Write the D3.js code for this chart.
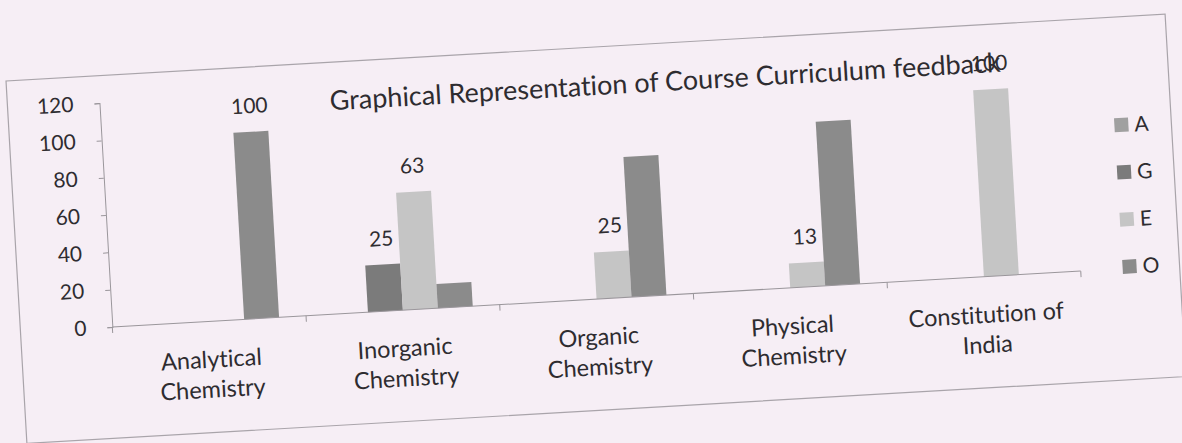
<!DOCTYPE html>
<html>
<head>
<meta charset="utf-8">
<script src="https://cdn.jsdelivr.net/npm/d3@7"></script>
<style>
  html, body { margin: 0; padding: 0; background: #f6eef5; }
  svg { display: block; }
  text { font-family: Lato, "Open Sans", sans-serif; fill: #2e2c30; font-variant-ligatures: none; }
</style>
</head>
<body>
<svg id="chart" width="1182" height="443"></svg>
<script>
// ---- data ----
const categories = ["Analytical Chemistry", "Inorganic Chemistry", "Organic Chemistry", "Physical Chemistry", "Constitution of India"];
const categoryLines = [["Analytical", "Chemistry"], ["Inorganic", "Chemistry"], ["Organic", "Chemistry"], ["Physical", "Chemistry"], ["Constitution of", "India"]];
const seriesNames = ["A", "G", "E", "O"];
const valuesA = [0, 0, 0, 0, 0];
const valuesG = [0, 25, 0, 0, 0];
const valuesE = [0, 63, 25, 13, 100];
const valuesO = [100, 13, 75, 88, 0];
// data labels as printed on the chart (null = no label)
const labelsA = [null, null, null, null, null];
const labelsG = [null, 25, null, null, null];
const labelsE = [null, 63, 25, 13, 100];
const labelsO = [100, null, null, null, null];
const yTicks = [0, 20, 40, 60, 80, 100, 120];
const titleText = "Graphical Representation of Course Curriculum feedback";

// ---- layout ----
const W = 1182, H = 443;
const plot = { left: 107, right: 1077, top: 74.5, bottom: 298.7 };
const colors = { A: "#a0a0a0", G: "#7b7b7b", E: "#c5c5c5", O: "#8b8b8b" };
const seriesValues = { A: valuesA, G: valuesG, E: valuesE, O: valuesO };
const seriesLabels = { A: labelsA, G: labelsG, E: labelsE, O: labelsO };

const svg = d3.select("#chart");
svg.append("rect").attr("width", W).attr("height", H).attr("fill", "#f6eef5");

const g = svg.append("g").attr("transform", "rotate(-3.3, 600, 220)");

// chart area border
g.append("rect")
  .attr("x", 15).attr("y", 47).attr("width", 1161).attr("height", 363)
  .attr("fill", "none").attr("stroke", "#a9a4aa").attr("stroke-width", 1.2);

const x0 = d3.scaleBand().domain(categories).range([plot.left, plot.right]).paddingInner(0).paddingOuter(0);
const x1 = d3.scaleBand().domain(seriesNames).range([0, 140]);
const y = d3.scaleLinear().domain([0, 120]).range([plot.bottom, plot.top]);

// bars
categories.forEach((cat, i) => {
  const cx = x0(cat) + x0.bandwidth() / 2 - 70;
  seriesNames.forEach(s => {
    const v = seriesValues[s][i];
    if (v > 0) {
      g.append("rect")
        .attr("x", cx + x1(s)).attr("width", x1.bandwidth())
        .attr("y", y(v)).attr("height", y(0) - y(v))
        .attr("fill", colors[s]);
    }
    const lab = seriesLabels[s][i];
    if (lab !== null) {
      g.append("text")
        .attr("x", cx + x1(s) + x1.bandwidth() / 2)
        .attr("y", y(v) - 26)
        .attr("dy", "0.35em")
        .attr("text-anchor", "middle")
        .attr("font-size", 21)
        .text(lab);
    }
  });
});

// y axis
const yAxis = d3.axisLeft(y).tickValues(yTicks).tickSize(5).tickPadding(21);
const ya = g.append("g").attr("transform", `translate(${plot.left},0)`).call(yAxis);
ya.select(".domain").attr("stroke", "#9a969b");
ya.selectAll(".tick line").attr("stroke", "#9a969b");
ya.selectAll(".tick text").attr("font-size", 21).attr("font-family", "Lato").attr("fill", "#2e2c30");

// x axis (baseline with boundary ticks)
const boundaries = categories.map(c => x0(c)).concat([plot.right]);
g.append("line").attr("x1", plot.left).attr("x2", plot.right)
  .attr("y1", y(0)).attr("y2", y(0)).attr("stroke", "#9a969b");
boundaries.forEach(bx => {
  g.append("line").attr("x1", bx).attr("x2", bx)
    .attr("y1", y(0)).attr("y2", y(0) + 6).attr("stroke", "#9a969b");
});

// category labels
categories.forEach((cat, i) => {
  const t = g.append("text")
    .attr("x", x0(cat) + x0.bandwidth() / 2)
    .attr("y", 345)
    .attr("text-anchor", "middle")
    .attr("font-size", 23.5);
  categoryLines[i].forEach((ln, j) => {
    t.append("tspan").attr("x", x0(cat) + x0.bandwidth() / 2).attr("dy", j === 0 ? 0 : 30).text(ln);
  });
});

// title
g.append("text").attr("x", 673).attr("y", 95).attr("text-anchor", "middle")
  .attr("font-size", 27).text(titleText);

// legend
seriesNames.forEach((s, i) => {
  const ly = 155 + i * 47.3;
  g.append("rect").attr("x", 1119).attr("y", ly - 7).attr("width", 14).attr("height", 14).attr("fill", colors[s]);
  g.append("text").attr("x", 1139).attr("y", ly).attr("dy", "0.35em").attr("font-size", 21).text(s);
});
</script>
</body>
</html>
